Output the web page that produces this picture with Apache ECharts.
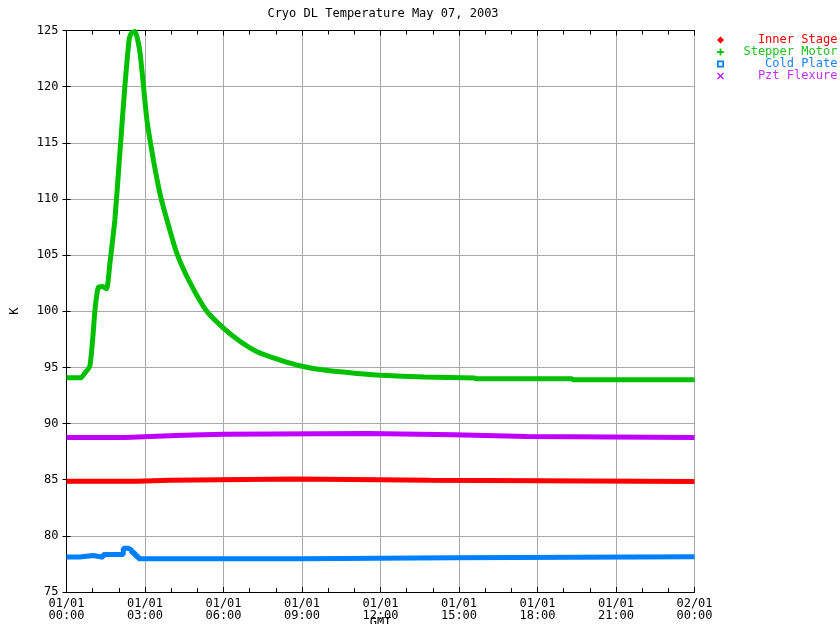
<!DOCTYPE html>
<html>
<head>
<meta charset="utf-8">
<title>Cryo DL Temperature</title>
<script src="https://cdn.jsdelivr.net/npm/echarts@6/dist/echarts.min.js"></script>
<style>
  html, body { margin: 0; padding: 0; background: #fff; }
  #chart { width: 840px; height: 624px; }
</style>
</head>
<body>
<div id="chart"></div>
<script>
// hours since 01/01 00:00 GMT, values in K
const stepperHours = [0, 0.55, 0.7, 0.89, 1.0, 1.09, 1.21, 1.38, 1.53, 1.66, 1.85, 2.04, 2.23, 2.4, 2.5, 2.62, 2.81,
  3.07, 3.32, 3.57, 3.83, 4.21, 4.72, 5.36, 6.0, 6.64, 7.28, 8.17, 9.0, 9.83, 11.1, 12.03, 13.66, 15.6, 15.65,
  19.3, 19.35, 24];
const stepperTemp = [94.07, 94.07, 94.5, 95.1, 97.5, 100.15, 102.1, 102.2, 102.0, 104.3, 108.2, 114.1, 120.0, 124.3,
  124.8, 124.9, 123.0, 117.1, 113.5, 110.5, 108.2, 105.2, 102.55, 100.0, 98.5, 97.3, 96.4, 95.65, 95.1, 94.76,
  94.46, 94.3, 94.15, 94.06, 94.0, 94.0, 93.9, 93.9];

const innerHours = [0, 2.7, 3.96, 8.75, 13.9, 24];
const innerTemp = [84.86, 84.95, 85.06, 84.95, 84.85, 84.85];

const pztHours = [0, 2.23, 3.19, 4.46, 6.0, 11.5, 14.8, 17.6, 24];
const pztTemp = [88.75, 88.85, 88.95, 89.05, 89.12, 89.0, 88.85, 88.75, 88.75];

const coldHours = [0, 0.51, 1.02, 1.4, 2.17, 2.36, 2.49, 2.62, 2.74, 9.0, 14.8, 24];
const coldTemp = [78.12, 78.25, 78.1, 78.35, 78.9, 78.75, 78.5, 78.2, 77.97, 78.05, 78.15, 78.15];

const xTickLabels = ['01/01\n00:00', '01/01\n03:00', '01/01\n06:00', '01/01\n09:00', '01/01\n12:00',
  '01/01\n15:00', '01/01\n18:00', '01/01\n21:00', '02/01\n00:00'];

const FONT = 'DejaVu Sans Mono';
const pairs = (xs, ys) => xs.map((x, i) => [x, ys[i]]);

const chart = echarts.init(document.getElementById('chart'));

const baseX = {
  type: 'value', min: 0, max: 24, interval: 3,
  axisLine: { lineStyle: { color: '#000', width: 1 } },
  axisTick: { inside: true, length: 5, lineStyle: { color: '#000' } },
  minorTick: { show: true, splitNumber: 3, length: 4, lineStyle: { color: '#000' } },
};
const baseY = {
  type: 'value', min: 75, max: 125, interval: 5,
  axisLine: { show: true, lineStyle: { color: '#000', width: 1 } },
  axisTick: { show: true, inside: true, length: 4, lineStyle: { color: '#000' } },
};

chart.setOption({
  backgroundColor: '#fff',
  animation: false,
  title: {
    text: 'Cryo DL Temperature May 07, 2003',
    left: 378, top: 3, textAlign: 'center',
    textStyle: { fontFamily: FONT, fontSize: 12, fontWeight: 'normal', color: '#000' },
  },
  legend: {
    orient: 'vertical', left: 717, top: 34, padding: 0,
    itemWidth: 7, itemHeight: 7, itemGap: 0,
    formatter: (name) => name.padStart(15, ' '),
    textStyle: { fontFamily: FONT, fontSize: 12, lineHeight: 12 },
    data: [
      { name: 'Inner Stage', icon: 'diamond', textStyle: { color: '#ff0000' } },
      { name: 'Stepper Motor', icon: 'path://M3,0H5V3H8V5H5V8H3V5H0V3H3Z', textStyle: { color: '#22c022' } },
      { name: 'Cold Plate', icon: 'path://M0,0H8V8H0Z M2,2V6H6V2Z', textStyle: { color: '#1a80ff' } },
      { name: 'Pzt Flexure', icon: 'path://M0,1L1,0L4,3L7,0L8,1L5,4L8,7L7,8L4,5L1,8L0,7L3,4Z', textStyle: { color: '#c030ff' } },
    ],
  },
  grid: { left: 66.5, right: 145.5, top: 30.5, bottom: 32, outerBoundsMode: 'none', containLabel: false },
  xAxis: [
    Object.assign({}, baseX, {
      position: 'bottom',
      name: 'GMT', nameLocation: 'middle', nameGap: 25, nameMoveOverlap: false,
      nameTextStyle: { fontFamily: FONT, fontSize: 12, color: '#000' },
      axisLabel: {
        margin: 6, fontFamily: FONT, fontSize: 12, lineHeight: 12, color: '#000',
        formatter: (v) => xTickLabels[Math.round(v / 3)],
      },
      splitLine: { show: true, lineStyle: { color: '#a8a8a8', width: 1 } },
    }),
    Object.assign({}, baseX, {
      position: 'top',
      axisLabel: { show: false },
      splitLine: { show: false },
    }),
  ],
  yAxis: [
    Object.assign({}, baseY, {
      position: 'left',
      name: 'K', nameLocation: 'middle', nameGap: 46, nameRotate: 90,
      nameTextStyle: { fontFamily: FONT, fontSize: 12, color: '#000' },
      axisLabel: { margin: 8, fontFamily: FONT, fontSize: 12, color: '#000' },
      splitLine: { show: true, lineStyle: { color: '#a8a8a8', width: 1 } },
    }),
    Object.assign({}, baseY, {
      position: 'right',
      axisLabel: { show: false },
      splitLine: { show: false },
    }),
  ],
  series: [
    {
      name: 'Inner Stage', type: 'line', step: 'end', showSymbol: false,
      data: pairs(innerHours, innerTemp),
      lineStyle: { color: '#ff0000', width: 5 }, itemStyle: { color: '#ff0000' },
    },
    {
      name: 'Stepper Motor', type: 'line', showSymbol: false, smooth: 0.2,
      data: pairs(stepperHours, stepperTemp),
      lineStyle: { color: '#00c000', width: 5 }, itemStyle: { color: '#00c000' },
    },
    {
      name: 'Cold Plate', type: 'line', step: 'end', showSymbol: false,
      data: pairs(coldHours, coldTemp),
      lineStyle: { color: '#0080ff', width: 5 }, itemStyle: { color: '#0080ff' },
    },
    {
      name: 'Pzt Flexure', type: 'line', step: 'end', showSymbol: false,
      data: pairs(pztHours, pztTemp),
      lineStyle: { color: '#c000ff', width: 5 }, itemStyle: { color: '#c000ff' },
    },
  ],
});
</script>
</body>
</html>
